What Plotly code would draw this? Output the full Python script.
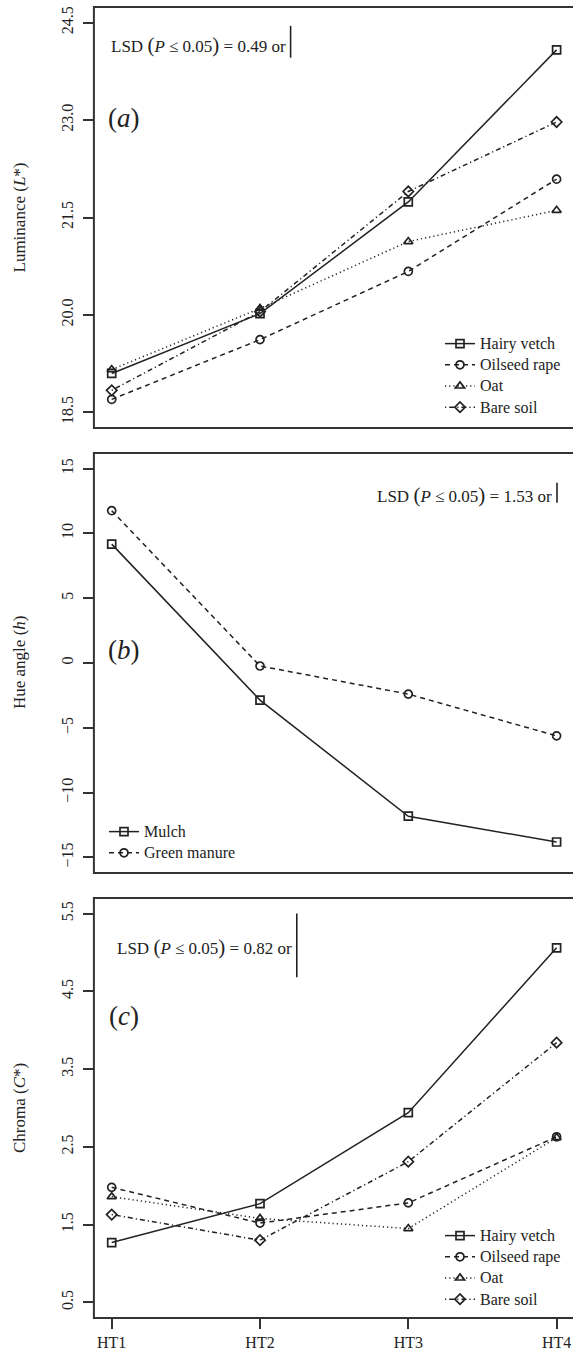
import plotly.graph_objects as go

# ---------------- data ----------------
HT = ["HT1", "HT2", "HT3", "HT4"]
crops = ["Hairy vetch", "Oilseed rape", "Oat", "Bare soil"]
lum_hairy = [19.10, 20.02, 21.74, 24.08]
lum_rape = [18.70, 19.62, 20.67, 22.09]
lum_oat = [19.16, 20.10, 21.13, 21.61]
lum_bare = [18.84, 20.05, 21.90, 22.97]
hue_groups = ["Mulch", "Green manure"]
hue_mulch = [9.17, -2.86, -11.82, -13.81]
hue_green = [11.75, -0.23, -2.40, -5.62]
chroma_hairy = [1.27, 1.77, 2.94, 5.06]
chroma_rape = [1.98, 1.52, 1.78, 2.63]
chroma_oat = [1.86, 1.58, 1.45, 2.62]
chroma_bare = [1.63, 1.30, 2.31, 3.84]
lsd_values = [0.49, 1.53, 0.82]
lsd_tops = [24.45, 13.9, 5.5]
yticks_a = [18.5, 20.0, 21.5, 23.0, 24.5]
yticks_b = [-15, -10, -5, 0, 5, 10, 15]
yticks_c = [0.5, 1.5, 2.5, 3.5, 4.5, 5.5]

# ---------------- layout helpers ----------------
W, H = 573, 1367
FONT = "Liberation Serif, Times New Roman, serif"
INK = "#222222"

def py(p):  # pixel from top -> paper y
    return (H - p) / H

def pxx(p):
    return p / W

x_left = 93.9
xdom = [pxx(x_left), 1.0]
xrange_ = [-0.12, -0.12 + (W - x_left) / 148.3]
panels = {
    1: dict(top=7, bot=428, rng=[18.26, 24.74], ticks=yticks_a, fmt=".1f"),
    2: dict(top=453, bot=873, rng=[-16.2, 16.2], ticks=yticks_b, fmt="d"),
    3: dict(top=898, bot=1318, rng=[0.3, 5.7], ticks=yticks_c, fmt=".1f"),
}

styles = {
    "Hairy vetch": dict(dash="solid", symbol="square-open"),
    "Oilseed rape": dict(dash="5px,4px", symbol="circle-open"),
    "Oat": dict(dash="1.2px,3px", symbol="triangle-up-open"),
    "Bare soil": dict(dash="1.2px,3px,5px,3px", symbol="diamond-open"),
    "Mulch": dict(dash="solid", symbol="square-open"),
    "Green manure": dict(dash="5px,4px", symbol="circle-open"),
}

fig = go.Figure()

def add(name, ys, n, legend):
    st = styles[name]
    fig.add_trace(go.Scatter(
        x=HT, y=ys,
        name=f"<span style='font-family:Liberation Serif, serif;font-size:16px'>{name}</span>",
        mode="lines+markers",
        xaxis="x" if n == 1 else f"x{n}", yaxis="y" if n == 1 else f"y{n}",
        legend=legend,
        line=dict(color=INK, width=1.5, dash=st["dash"]),
        marker=dict(symbol=st["symbol"], size=8, color=INK, line=dict(width=1.7, color=INK)),
    ))

for name, ys in zip(crops, [lum_hairy, lum_rape, lum_oat, lum_bare]):
    add(name, ys, 1, "legend")
for name, ys in zip(hue_groups, [hue_mulch, hue_green]):
    add(name, ys, 2, "legend2")
for name, ys in zip(crops, [chroma_hairy, chroma_rape, chroma_oat, chroma_bare]):
    add(name, ys, 3, "legend3")

layout = dict(
    width=W, height=H, margin=dict(l=0, r=0, t=0, b=0),
    paper_bgcolor="white", plot_bgcolor="white",
    font=dict(family=FONT, size=16, color=INK),
    shapes=[], annotations=[],
)

for n, p in panels.items():
    sx = "" if n == 1 else str(n)
    layout[f"xaxis{sx}"] = dict(
        domain=xdom, anchor=f"y{sx}", type="category", range=xrange_,
        showgrid=False, zeroline=False, showline=False,
        showticklabels=(n == 3), ticks="outside" if n == 3 else "",
        ticklen=10, tickwidth=1.5, tickcolor="#333",
        tickfont=dict(family=FONT, size=16, color=INK),
    )
    layout[f"yaxis{sx}"] = dict(
        domain=[py(p["bot"]), py(p["top"])], anchor=f"x{sx}", range=p["rng"],
        showgrid=False, zeroline=False, showline=False,
        tickvals=p["ticks"], tickformat=p["fmt"], tickangle=-90,
        ticks="outside", ticklen=10, tickwidth=1.5, tickcolor="#333",
        ticklabelstandoff=4,
        tickfont=dict(family=FONT, size=16, color=INK),
    )
    layout["shapes"].append(dict(
        type="rect", xref=f"x{sx} domain", yref=f"y{sx} domain",
        x0=0, x1=1.05, y0=0, y1=1, line=dict(color="#333", width=2),
    ))

# LSD bars
bar_x = [290.6, 557.0, 296.8]
for i, n in enumerate([1, 2, 3]):
    sx = "" if n == 1 else str(n)
    xf = (bar_x[i] - x_left) / (W - x_left)
    layout["shapes"].append(dict(
        type="line", xref=f"x{sx} domain", yref=f"y{sx}",
        x0=xf, x1=xf, y0=lsd_tops[i] - lsd_values[i], y1=lsd_tops[i],
        line=dict(color=INK, width=1.6),
    ))

big = "<span style='font-size:21px'>"
def lsd_text(v):
    return f"LSD {big}(</span><i>P</i> ≤ 0.05{big})</span> = {v:.2f} or"

text_y = [45, 495, 947]
for i in range(3):
    layout["annotations"].append(dict(
        xref="paper", yref="paper", x=pxx(bar_x[i] - 3), y=py(text_y[i]),
        xanchor="right", yanchor="middle", showarrow=False,
        text=lsd_text(lsd_values[i]), font=dict(family=FONT, size=17, color=INK),
    ))

# panel letters
for letter, yc in zip("abc", [118, 650, 1016]):
    layout["annotations"].append(dict(
        xref="paper", yref="paper", x=pxx(124), y=py(yc),
        xanchor="center", yanchor="middle", showarrow=False,
        text=f"(<i>{letter}</i>)", font=dict(family=FONT, size=27, color=INK),
    ))

# y axis titles
titles = ["Luminance (<i>L</i>*)", "Hue angle (<i>h</i>)", "Chroma (<i>C</i>*)"]
for t, n in zip(titles, [1, 2, 3]):
    p = panels[n]
    layout["annotations"].append(dict(
        xref="paper", yref="paper", x=pxx(19), y=py((p["top"] + p["bot"]) / 2),
        xanchor="center", yanchor="middle", showarrow=False, textangle=-90,
        text=t, font=dict(family=FONT, size=17, color=INK),
    ))

leg_common = dict(bgcolor="rgba(0,0,0,0)", borderwidth=0,
                  font=dict(family=FONT, size=14, color=INK),
                  xanchor="left", yanchor="top", tracegroupgap=0, itemwidth=30)
layout["legend"] = dict(x=pxx(440), y=py(328), **leg_common)
layout["legend2"] = dict(x=pxx(104), y=py(816), **leg_common)
layout["legend3"] = dict(x=pxx(440), y=py(1220), **leg_common)
layout["showlegend"] = True

fig.update_layout(**layout)
fig.write_html("out.html")
